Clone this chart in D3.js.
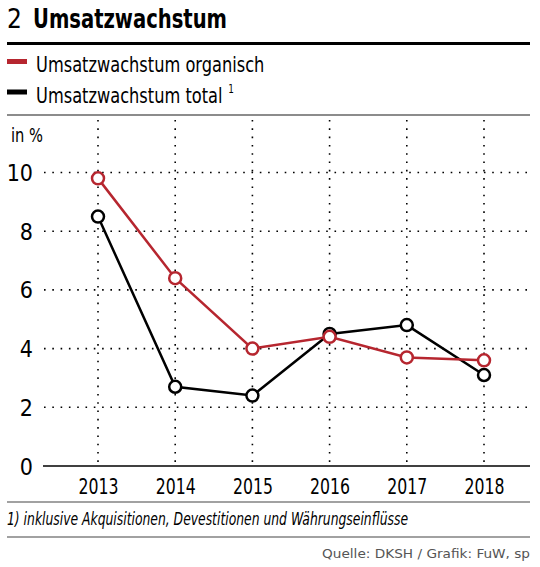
<!DOCTYPE html>
<html><head><meta charset="utf-8">
<script src="https://cdn.jsdelivr.net/npm/d3@7"></script>
<style>
html,body{margin:0;padding:0;background:#fff;}
text{font-family:"Liberation Sans Narrow","DejaVu Sans Condensed","Roboto Condensed",sans-serif;}
</style></head>
<body>
<svg id="c" width="540" height="567"></svg>
<script>
const years = ["2013","2014","2015","2016","2017","2018"];
const organisch = [9.8, 6.4, 4.0, 4.4, 3.7, 3.6];
const total = [8.5, 2.7, 2.4, 4.5, 4.8, 3.1];
const yTicks = [0, 2, 4, 6, 8, 10];

const svg = d3.select("#c");
const red = "#b6262f";
const cond = "'Liberation Sans Narrow','DejaVu Sans Condensed',sans-serif";

// Title
svg.append("text").attr("x", 7).attr("y", 28).attr("font-size", 26).attr("fill", "#000").text("2");
svg.append("text").attr("x", 33).attr("y", 28).attr("font-size", 26).attr("font-weight", "bold")
  .attr("textLength", 194).attr("lengthAdjust", "spacingAndGlyphs").text("Umsatzwachstum");
svg.append("line").attr("x1", 7).attr("x2", 530).attr("y1", 43.5).attr("y2", 43.5).attr("stroke", "#000").attr("stroke-width", 3);

// Legend
const leg = [{label: "Umsatzwachstum organisch", color: red, sup: null},
             {label: "Umsatzwachstum total", color: "#000", sup: "1"}];
leg.forEach((d, i) => {
  const yy = 61.5 + i * 30.5;
  svg.append("rect").attr("x", 7).attr("y", yy - 2.5).attr("width", 20).attr("height", 5).attr("fill", d.color);
  const g = svg.append("g").attr("transform", `translate(36,${yy + 10.5}) scale(0.82,1)`);
  const tx = g.append("text").attr("x", 0).attr("y", 0).attr("font-size", 22).attr("fill", "#000").text(d.label);
  if (d.sup) {
    const w = tx.node().getComputedTextLength();
    g.append("text").attr("x", w + 7).attr("y", -10).attr("font-size", 12).attr("fill", "#000").text(d.sup);
  }
});
svg.append("line").attr("x1", 7).attr("x2", 530).attr("y1", 115).attr("y2", 115).attr("stroke", "#666").attr("stroke-width", 1.5);

// Scales
const x = d3.scalePoint().domain(years).range([98, 484]);
const y = d3.scaleLinear().domain([0, 10]).range([466, 172.5]);

svg.append("text").attr("x", 11).attr("y", 142).attr("font-size", 19)
  .attr("textLength", 32).attr("lengthAdjust", "spacingAndGlyphs").text("in %");

// horizontal grid
const gy = svg.append("g");
yTicks.filter(v => v > 0).forEach(v => {
  gy.append("line").attr("x1", 44).attr("x2", 530).attr("y1", y(v)).attr("y2", y(v))
    .attr("stroke", "#000").attr("stroke-width", 1.6).attr("stroke-dasharray", "1.6,6.7");
});
// vertical grid
years.forEach(yr => {
  svg.append("line").attr("x1", x(yr)).attr("x2", x(yr)).attr("y1", 120).attr("y2", 466)
    .attr("stroke", "#000").attr("stroke-width", 1.6).attr("stroke-dasharray", "1.6,6.7");
});

// y axis labels
const yAxis = d3.axisLeft(y).tickValues(yTicks).tickSize(0).tickPadding(0).tickFormat(d3.format("d"));
const ya = svg.append("g").attr("transform", "translate(33,0)").call(yAxis);
ya.select(".domain").remove();
ya.selectAll("text").attr("font-size", 23).attr("font-family", cond).attr("fill", "#000").attr("dy", "0.35em");

// x axis
const xAxis = d3.axisBottom(x).tickSize(0).tickPadding(0);
const xa = svg.append("g").attr("transform", "translate(0,466)").call(xAxis);
xa.select(".domain").remove();
xa.selectAll("text").attr("font-size", 21).attr("font-family", cond).attr("fill", "#000").attr("dy", 0).attr("y", 28)
  .attr("textLength", 40).attr("lengthAdjust", "spacingAndGlyphs");
svg.append("line").attr("x1", 43).attr("x2", 530).attr("y1", 466).attr("y2", 466).attr("stroke", "#000").attr("stroke-width", 1.6);

// lines
const line = d3.line().x((d, i) => x(years[i])).y(d => y(d));
[{data: total, color: "#000"}, {data: organisch, color: red}].forEach(s => {
  svg.append("path").datum(s.data).attr("d", line).attr("fill", "none").attr("stroke", s.color).attr("stroke-width", 2.5);
  svg.append("g").selectAll("circle").data(s.data).join("circle")
    .attr("cx", (d, i) => x(years[i])).attr("cy", d => y(d)).attr("r", 6)
    .attr("fill", "#fff").attr("stroke", s.color).attr("stroke-width", 2.5);
});

// footer
svg.append("line").attr("x1", 7).attr("x2", 530).attr("y1", 502).attr("y2", 502).attr("stroke", "#444").attr("stroke-width", 1.2);
svg.append("text").attr("x", 7).attr("y", 525).attr("font-size", 18).attr("font-style", "italic")
  .attr("textLength", 401).attr("lengthAdjust", "spacingAndGlyphs")
  .text("1) inklusive Akquisitionen, Devestitionen und Währungseinflüsse");
svg.append("line").attr("x1", 7).attr("x2", 530).attr("y1", 537).attr("y2", 537).attr("stroke", "#444").attr("stroke-width", 1.2);
svg.append("text").attr("x", 530).attr("y", 558).attr("text-anchor", "end").attr("font-size", 13)
  .attr("font-family", "'Open Sans',sans-serif").attr("fill", "#555")
  .attr("textLength", 208).attr("lengthAdjust", "spacingAndGlyphs").text("Quelle: DKSH / Grafik: FuW, sp");
</script>
</body></html>
